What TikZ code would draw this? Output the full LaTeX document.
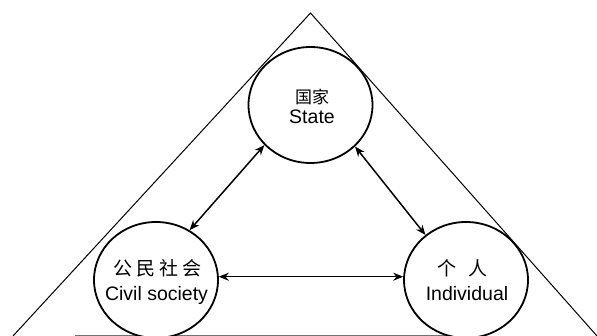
\documentclass[tikz,border=0pt]{standalone}
\usepackage{fontspec}
\setmainfont{Liberation Sans}
\newfontfamily\cjk{Noto Sans CJK SC}
\usetikzlibrary{arrows.meta,shapes.geometric}
\begin{document}
\begin{tikzpicture}[x=1pt,y=-1pt,
  circ/.style={draw,ellipse,line width=1.8pt,inner sep=0pt,minimum width=124pt,minimum height=116pt},
  en/.style={font=\fontsize{19.5}{21}\selectfont,inner sep=0pt},
  zh/.style={font=\cjk\fontsize{19}{21}\selectfont,inner sep=0pt},
  link/.style={line width=1.5pt,{Stealth[length=10pt,width=8pt]}-{Stealth[length=10pt,width=8pt]}},
  tri/.style={line width=1pt}]
\useasboundingbox (0,0) rectangle (597,336);
% triangle
\coordinate (apex) at (310.5,13);
\coordinate (bl) at (13,336);
\coordinate (br) at (597,336);
\draw[tri] (bl) -- (apex) -- (br);
\coordinate (b1) at (75,335.5);
\coordinate (b2) at (480,335.5);
\draw[line width=1.2pt,black!55] (b1) -- (b2);
% circles
\node[circ,fill=white] (S) at (310.5,105) {};
\node[circ,fill=white] (C) at (156,280) {};
\node[circ,fill=white] (I) at (466,280) {};
% texts
\node[zh,font=\cjk\fontsize{17}{19}\selectfont] (s1) at (312,97) {国家};
\node[en] (s2) at (312,117) {State};
\node[zh] (c1) at (157.5,268) {公\hspace{4pt}民\hspace{4pt}社\hspace{4pt}会};
\node[en] (c2) at (156.5,295) {Civil society};
\node[zh] (i1) at (462.5,268) {个\hspace{12pt}人};
\node[en] (i2) at (467,294) {Individual};
% connectors
\draw[link] (S.221.5) -- (C.56.8);
\draw[link] (S.317.8) -- (I.132.5);
\draw[link] (C.3) -- (I.177);
\end{tikzpicture}
\end{document}
